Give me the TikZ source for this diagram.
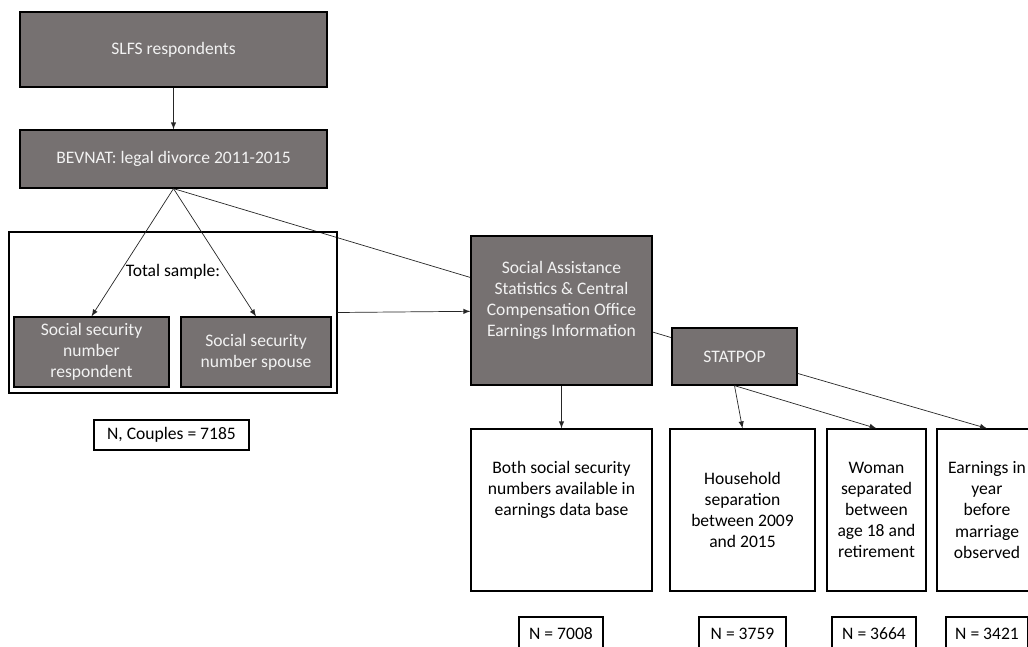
\documentclass[tikz,border=0pt]{standalone}
\usepackage{fontspec}
\setmainfont{Carlito}
\usetikzlibrary{arrows}
\usetikzlibrary{backgrounds}

\definecolor{boxgray}{RGB}{118,113,113}
\definecolor{boxtext}{RGB}{242,242,242}

\begin{document}
\begin{tikzpicture}[x=0.02cm, y=-0.02cm, font=\fontsize{10}{12}\selectfont,
  line/.style={>=latex, draw=black!85, line width=0.4pt},
  dark/.style={draw=black, line width=0.7pt, fill=boxgray, text=boxtext, align=center, inner sep=0pt},
  plain/.style={draw=black, line width=0.7pt, fill=white, align=center, inner sep=0pt},
  count/.style={draw=black, line width=0.6pt, fill=white, inner sep=0pt}]
\useasboundingbox (0, 0) rectangle (1028, 646);

% sources
\node[dark, minimum width=6.14cm, minimum height=1.5cm] (slfs) at (173.5, 49.5) {SLFS respondents};
\node[dark, minimum width=6.14cm, minimum height=1.16cm] (bev) at (173.5, 159) {BEVNAT: legal divorce 2011-2015};

% total sample
\node[plain, fill=none, minimum width=6.56cm, minimum height=3.22cm] (sample) at (173, 312.5) {};
\node (total) at (173, 272) {Total sample:};
\node[dark, minimum width=3.1cm, minimum height=1.4cm] (resp) at (91.5, 352) {Social security\\number\\respondent};
\node[dark, minimum width=3cm, minimum height=1.4cm] (spouse) at (256, 352) {Social security\\number spouse};
\node[count, minimum width=3.1cm, minimum height=0.6cm] (couples) at (171.5, 435) {N, Couples = 7185};

% linked registers
\node[dark, minimum width=3.62cm, minimum height=2.98cm,
  label={[text=boxtext, align=center, yshift=0.2cm]center:Social Assistance\\Statistics \& Central\\Compensation Office\\Earnings Information}] (sa) at (561.5, 310.5) {};
\node[dark, minimum width=2.5cm, minimum height=1.14cm] (stat) at (734.5, 356.5) {STATPOP};

% restrictions
\node[plain, minimum width=3.62cm, minimum height=3.24cm,
  label={[align=center, yshift=0.4cm]center:Both social security\\numbers available in\\earnings data base}] (both) at (561.5, 510) {};
\node[plain, minimum width=2.9cm, minimum height=3.24cm] (house) at (742.5, 510) {Household\\separation\\between 2009\\and 2015};
\node[plain, minimum width=1.98cm, minimum height=3.24cm] (woman) at (876.5, 510) {Woman\\separated\\between\\age 18 and\\retirement};
\node[plain, minimum width=2cm, minimum height=3.24cm] (earn) at (987, 510) {Earnings in\\year\\before\\marriage\\observed};

\node[count, minimum width=1.68cm, minimum height=0.68cm] (n1) at (561, 634) {N = 7008};
\node[count, minimum width=1.74cm, minimum height=0.68cm] (n2) at (742.5, 634) {N = 3759};
\node[count, minimum width=1.68cm, minimum height=0.68cm] (n3) at (874, 634) {N = 3664};
\node[count, minimum width=1.64cm, minimum height=0.68cm] (n4) at (987, 634) {N = 3421};

\draw[->, line] (slfs) -- (bev);
\draw[->, line] (bev.south) -- (resp.north);
\draw[->, line] (bev.south) -- (spouse.north);
\draw[->, line] (sample.east) -- (sa);
\draw[->, line] (sa) -- (both);
\draw[->, line] (stat.south) -- (house.north);
\draw[->, line] (stat.south) -- (woman.north);
\draw[->, line] (stat.-15) -- (earn.north);

\begin{pgfonlayer}{background}
\draw[line] (bev.south) -- (stat);
\end{pgfonlayer}

\end{tikzpicture}
\end{document}
